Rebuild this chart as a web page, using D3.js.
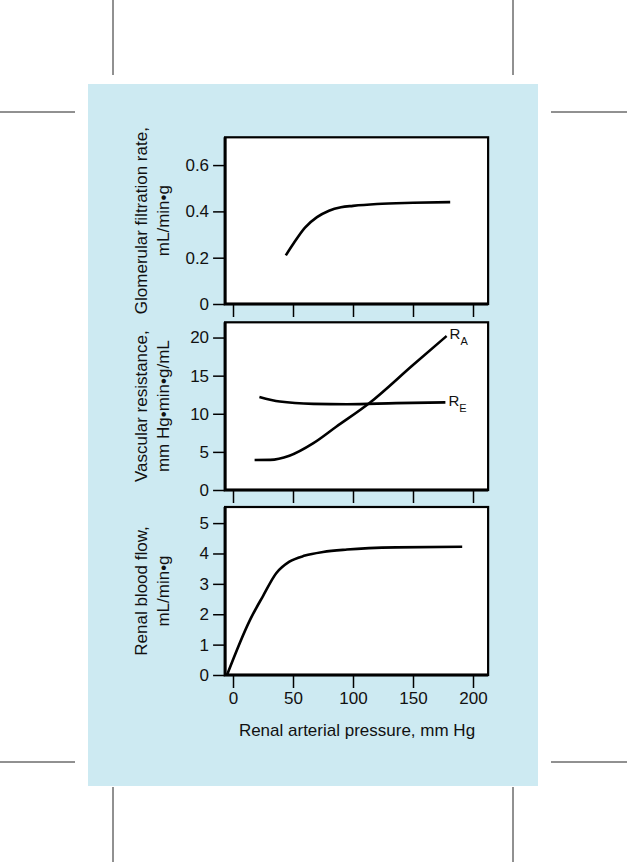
<!DOCTYPE html>
<html>
<head>
<meta charset="utf-8">
<script src="https://cdn.jsdelivr.net/npm/d3@7/dist/d3.min.js"></script>
<style>
  html, body { margin: 0; padding: 0; background: #ffffff; }
  svg { display: block; }
  text { font-family: "Liberation Sans", Arial, Helvetica, sans-serif; fill: #111; }
</style>
</head>
<body>
<svg id="chart" width="627" height="862"></svg>
<script>
// ---- Data ----
const xTicks = [0, 50, 100, 150, 200];
const xTitle = "Renal arterial pressure, mm Hg";

const gfrTicks = [0, 0.2, 0.4, 0.6];
const gfrTickLabels = ["0", "0.2", "0.4", "0.6"];
const gfrPressure = [44, 50, 60, 70, 80, 90, 100, 120, 150, 181];
const gfrValues   = [0.21, 0.258, 0.33, 0.375, 0.403, 0.418, 0.424, 0.432, 0.437, 0.44];
const gfrTitle = ["Glomerular filtration rate,", "mL/min\u2022g"];

const vrTicks = [0, 5, 10, 15, 20];
const vrTickLabels = ["0", "5", "10", "15", "20"];
const raPressure = [18, 31, 47, 67, 86, 114, 150, 178];
const raValues   = [3.93, 3.95, 4.5, 6.15, 8.3, 11.45, 16.4, 20.2];
const rePressure = [22, 39, 67, 95, 136, 177];
const reValues   = [12.2, 11.6, 11.3, 11.25, 11.4, 11.5];
const vrTitle = ["Vascular resistance,", "mm Hg\u2022min\u2022g/mL"];
const seriesLabels = [{ main: "R", sub: "A" }, { main: "R", sub: "E" }];

const rbfTicks = [0, 1, 2, 3, 4, 5];
const rbfTickLabels = ["0", "1", "2", "3", "4", "5"];
const rbfPressure = [-5, 14, 25, 36, 47, 60, 75, 95, 136, 191];
const rbfValues   = [0, 1.8, 2.6, 3.35, 3.73, 3.93, 4.05, 4.13, 4.2, 4.22];
const rbfTitle = ["Renal blood flow,", "mL/min\u2022g"];

// ---- Drawing ----
const svg = d3.select("#chart");
const FONT = '"Liberation Sans", Arial, sans-serif';

// page background + crop marks
svg.append("rect").attr("x", 0).attr("y", 0).attr("width", 627).attr("height", 862).attr("fill", "#ffffff");
svg.append("rect").attr("x", 88).attr("y", 84).attr("width", 450).attr("height", 702).attr("fill", "#cdeaf2");
const marks = svg.append("g").attr("stroke", "#222").attr("stroke-width", 1);
[[113, 0, 113, 75], [513, 0, 513, 75], [113, 787, 113, 862], [513, 787, 513, 862],
 [0, 112, 75, 112], [551, 112, 627, 112], [0, 762, 75, 762], [551, 762, 627, 762]]
  .forEach(([x1, y1, x2, y2]) => marks.append("line").attr("x1", x1).attr("y1", y1).attr("x2", x2).attr("y2", y2));

const x = d3.scaleLinear().domain([0, 200]).range([233, 473]);
const frameLeft = x(-6.6), frameRight = x(212.6);

function panel(cfg) {
  const y = d3.scaleLinear().domain([0, cfg.yMax]).range([cfg.bottom, cfg.top]);
  const g = svg.append("g");
  // frame
  g.append("rect")
    .attr("x", frameLeft).attr("y", y(cfg.yMax))
    .attr("width", frameRight - frameLeft).attr("height", y(0) - y(cfg.yMax))
    .attr("fill", "#ffffff").attr("stroke", "#000").attr("stroke-width", 2.2);
  g.append("path")
    .attr("d", `M${frameLeft},${y(cfg.yMax)}V${y(0)}H${frameRight}`)
    .attr("fill", "none").attr("stroke", "#000").attr("stroke-width", 3);

  // y axis
  const yAxis = d3.axisLeft(y).tickValues(cfg.yTicks)
    .tickFormat((d, i) => cfg.yTickLabels[i]).tickSize(12).tickPadding(4);
  const ya = g.append("g").attr("transform", `translate(${frameLeft},0)`).call(yAxis);
  ya.select(".domain").remove();
  ya.selectAll(".tick line").attr("stroke", "#000").attr("stroke-width", 1.5);
  ya.selectAll(".tick text").attr("font-size", 17).attr("fill", "#111").attr("font-family", FONT);

  // x axis
  const xAxis = d3.axisBottom(x).tickValues(xTicks).tickSize(13).tickPadding(4)
    .tickFormat(cfg.xLabels ? d3.format("d") : "");
  const xa = g.append("g").attr("transform", `translate(0,${y(0)})`).call(xAxis);
  xa.select(".domain").remove();
  xa.selectAll(".tick line").attr("stroke", "#000").attr("stroke-width", 1.5);
  xa.selectAll(".tick text").attr("font-size", 17).attr("fill", "#111").attr("font-family", FONT);

  // y titles (rotated)
  const cy = (y(0) + y(cfg.yMax)) / 2;
  cfg.title.forEach((t, i) => {
    g.append("text")
      .attr("transform", `translate(${147 + i * 22},${cy}) rotate(-90)`)
      .attr("text-anchor", "middle")
      .attr("font-size", 17)
      .text(t);
  });

  const line = d3.line().x(d => x(d[0])).y(d => y(d[1])).curve(d3.curveMonotoneX);
  cfg.series.forEach(s => {
    g.append("path")
      .datum(d3.zip(s.p, s.v))
      .attr("d", line)
      .attr("fill", "none").attr("stroke", "#000").attr("stroke-width", 2.6)
      .attr("stroke-linecap", "butt").attr("stroke-linejoin", "round");
    if (s.label) {
      const lp = s.p[s.p.length - 1], lv = s.v[s.v.length - 1];
      const t = g.append("text")
        .attr("x", x(lp) + 3).attr("y", y(lv) + s.dy)
        .attr("font-size", 15);
      t.append("tspan").text(s.label.main);
      t.append("tspan").attr("font-size", 11).attr("dy", 6).text(s.label.sub);
    }
  });
  return y;
}

panel({
  top: 137.3, bottom: 304, yMax: 0.72,
  yTicks: gfrTicks, yTickLabels: gfrTickLabels, title: gfrTitle, xLabels: false,
  series: [{ p: gfrPressure, v: gfrValues }]
});

panel({
  top: 322.3, bottom: 490, yMax: 22,
  yTicks: vrTicks, yTickLabels: vrTickLabels, title: vrTitle, xLabels: false,
  series: [
    { p: raPressure, v: raValues, label: seriesLabels[0], dy: 3 },
    { p: rePressure, v: reValues, label: seriesLabels[1], dy: 4 }
  ]
});

panel({
  top: 507, bottom: 675, yMax: 5.53,
  yTicks: rbfTicks, yTickLabels: rbfTickLabels, title: rbfTitle, xLabels: true,
  series: [{ p: rbfPressure, v: rbfValues }]
});

svg.append("text")
  .attr("x", (x(0) + x(200)) / 2 + 4).attr("y", 736)
  .attr("text-anchor", "middle").attr("font-size", 17)
  .text(xTitle);
</script>
</body>
</html>
